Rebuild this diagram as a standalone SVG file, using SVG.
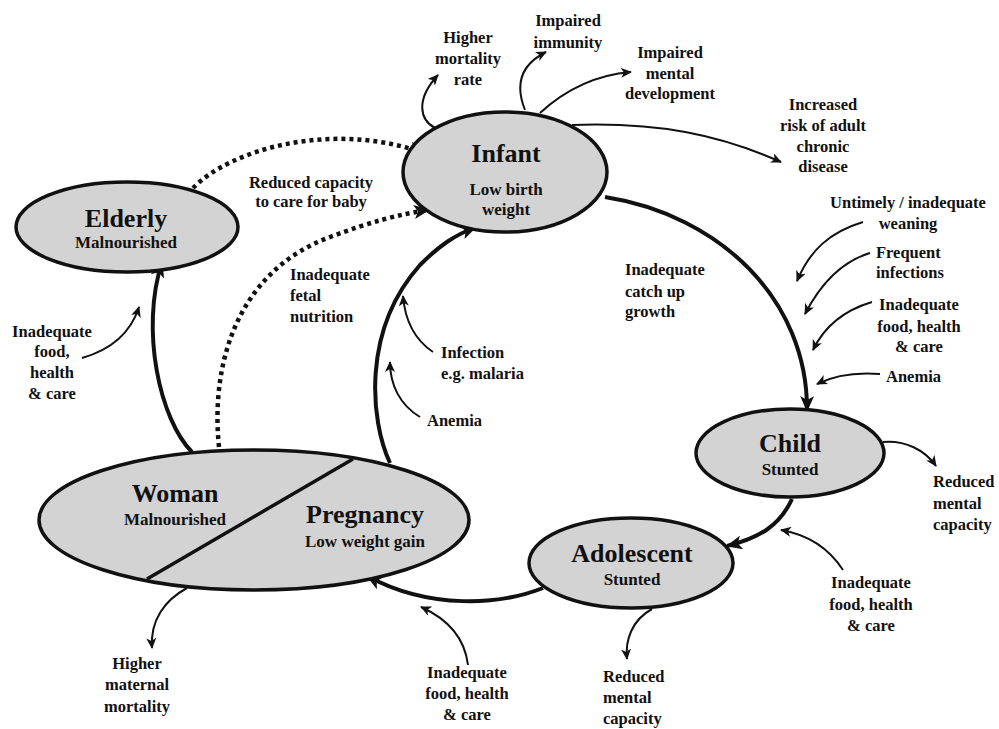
<svg xmlns="http://www.w3.org/2000/svg" width="999" height="729" viewBox="0 0 999 729">
<defs>
<marker id="big" markerUnits="userSpaceOnUse" markerWidth="18" markerHeight="14" refX="15" refY="7" orient="auto"><path d="M0,0 L16,7 L0,14 L4,7 z" fill="#111"/></marker>
<marker id="small" markerUnits="userSpaceOnUse" markerWidth="12" markerHeight="10" refX="10" refY="5" orient="auto"><path d="M0,0 L11,5 L0,10 L3,5 z" fill="#111"/></marker>
</defs>
<style>
.node{fill:#d3d3d3;stroke:#111;stroke-width:3.5}
.t{font-family:"Liberation Serif","Times New Roman",serif;font-weight:bold;fill:#111;text-anchor:middle}
.h{font-size:26px}
.s{font-size:17px}
.a{font-size:16.5px}
.l{text-anchor:start}
.main{fill:none;stroke:#111;stroke-width:4;marker-end:url(#big)}
.dot{fill:none;stroke:#111;stroke-width:4.5;stroke-dasharray:4 4;marker-end:url(#big)}
.thin{fill:none;stroke:#111;stroke-width:2;marker-end:url(#small)}
</style>
<rect width="999" height="729" fill="#fff"/>

<g id="connectors">
<path class="main" d="M605,197 C720,215 808,300 807,411"/>
<path class="main" d="M792,499 C780,525 760,538 727,546"/>
<path class="main" d="M543,588 C500,605 430,610 367,576"/>
<path class="main" d="M390,463 C370,420 362,330 420,265 C440,245 455,235 476,227"/>
<path class="main" d="M192,452 C160,420 140,330 162,262"/>
<path class="dot" d="M219,447 C210,360 240,270 330,237 C370,222 400,214 429,210"/>
<path class="dot" d="M193,188 C230,150 330,120 424,153"/>
<path class="thin" d="M435,128 C420,120 415,100 438,75"/>
<path class="thin" d="M525,110 C515,85 520,65 546,52"/>
<path class="thin" d="M540,113 C565,90 595,75 631,72"/>
<path class="thin" d="M572,125 C660,122 720,135 781,162"/>
<path class="thin" d="M863,222 C830,232 810,250 797,281"/>
<path class="thin" d="M870,253 C840,262 820,285 805,314"/>
<path class="thin" d="M872,302 C845,310 825,325 813,350"/>
<path class="thin" d="M880,374 C855,372 835,375 817,384"/>
<path class="thin" d="M883,442 C905,440 925,450 936,466"/>
<path class="thin" d="M843,570 C830,550 810,535 781,530"/>
<path class="thin" d="M652,609 C632,620 625,640 627,659"/>
<path class="thin" d="M468,665 C465,640 450,620 421,607"/>
<path class="thin" d="M187,588 C165,600 150,620 152,648"/>
<path class="thin" d="M82,358 C110,350 130,335 139,307"/>
<path class="thin" d="M433,352 C415,340 405,320 403,296"/>
<path class="thin" d="M420,417 C400,405 390,385 390,362"/>
</g>

<g id="infant">
<ellipse class="node" cx="505" cy="172" rx="102" ry="60"/>
<text class="t h" x="506" y="162">Infant</text>
<text class="t s" x="506" y="195">Low birth</text>
<text class="t s" x="506" y="215">weight</text>
</g>
<g id="elderly">
<ellipse class="node" cx="127" cy="227" rx="111" ry="45"/>
<text class="t h" x="126" y="227">Elderly</text>
<text class="t s" x="126" y="248">Malnourished</text>
</g>
<g id="woman-pregnancy">
<ellipse class="node" cx="254" cy="520" rx="215" ry="70"/>
<line x1="353" y1="459" x2="147" y2="579" stroke="#111" stroke-width="3.5"/>
<text class="t h" x="175" y="502">Woman</text>
<text class="t s" x="175" y="525">Malnourished</text>
<text class="t h" x="365" y="523">Pregnancy</text>
<text class="t s" x="365" y="547">Low weight gain</text>
</g>
<g id="child">
<ellipse class="node" cx="790" cy="453" rx="94" ry="44"/>
<text class="t h" x="790" y="452">Child</text>
<text class="t s" x="790" y="475">Stunted</text>
</g>
<g id="adolescent">
<ellipse class="node" cx="631" cy="563" rx="102" ry="45"/>
<text class="t h" x="632" y="562">Adolescent</text>
<text class="t s" x="632" y="585">Stunted</text>
</g>

<g id="labels">
<text class="t a" x="468" y="43">Higher</text>
<text class="t a" x="468" y="64">mortality</text>
<text class="t a" x="468" y="85">rate</text>
<text class="t a" x="568" y="26">Impaired</text>
<text class="t a" x="568" y="48">immunity</text>
<text class="t a" x="670" y="58">Impaired</text>
<text class="t a" x="670" y="79">mental</text>
<text class="t a" x="670" y="99">development</text>
<text class="t a" x="823" y="110">Increased</text>
<text class="t a" x="823" y="131">risk of adult</text>
<text class="t a" x="823" y="152">chronic</text>
<text class="t a" x="823" y="172">disease</text>
<text class="t a" x="311" y="188">Reduced capacity</text>
<text class="t a" x="311" y="207">to care for baby</text>
<text class="t a l" x="290" y="280">Inadequate</text>
<text class="t a l" x="290" y="301">fetal</text>
<text class="t a l" x="290" y="322">nutrition</text>
<text class="t a l" x="441" y="358">Infection</text>
<text class="t a l" x="441" y="379">e.g. malaria</text>
<text class="t a l" x="427" y="426">Anemia</text>
<text class="t a l" x="625" y="275">Inadequate</text>
<text class="t a l" x="625" y="297">catch up</text>
<text class="t a l" x="625" y="317">growth</text>
<text class="t a" x="908" y="208">Untimely / inadequate</text>
<text class="t a" x="908" y="229">weaning</text>
<text class="t a l" x="876" y="258">Frequent</text>
<text class="t a l" x="876" y="278">infections</text>
<text class="t a" x="919" y="310">Inadequate</text>
<text class="t a" x="919" y="332">food, health</text>
<text class="t a" x="919" y="352">&amp; care</text>
<text class="t a l" x="886" y="382">Anemia</text>
<text class="t a l" x="933" y="487">Reduced</text>
<text class="t a l" x="933" y="509">mental</text>
<text class="t a l" x="933" y="530">capacity</text>
<text class="t a" x="871" y="588">Inadequate</text>
<text class="t a" x="871" y="610">food, health</text>
<text class="t a" x="871" y="631">&amp; care</text>
<text class="t a l" x="603" y="682">Reduced</text>
<text class="t a l" x="603" y="703">mental</text>
<text class="t a l" x="603" y="724">capacity</text>
<text class="t a" x="467" y="678">Inadequate</text>
<text class="t a" x="467" y="699">food, health</text>
<text class="t a" x="467" y="720">&amp; care</text>
<text class="t a" x="137" y="669">Higher</text>
<text class="t a" x="137" y="690">maternal</text>
<text class="t a" x="137" y="712">mortality</text>
<text class="t a" x="52" y="337">Inadequate</text>
<text class="t a" x="52" y="357">food,</text>
<text class="t a" x="52" y="378">health</text>
<text class="t a" x="52" y="399">&amp; care</text>
</g>
</svg>
